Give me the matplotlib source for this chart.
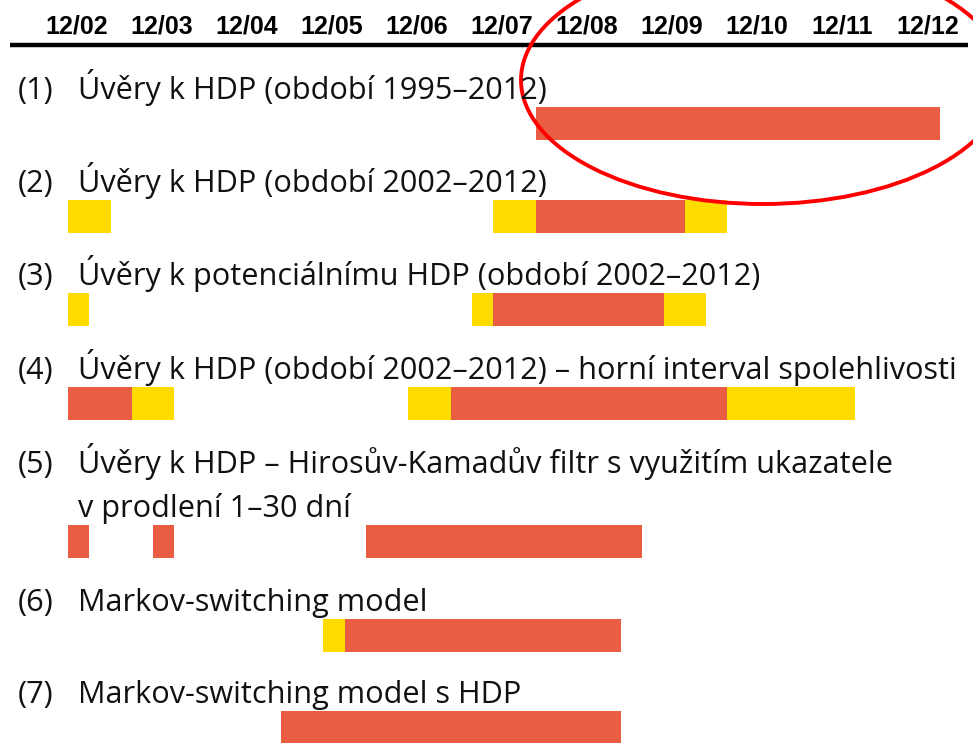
import matplotlib
matplotlib.use("Agg")
import matplotlib.pyplot as plt
from matplotlib import font_manager
from matplotlib.patches import Ellipse
from matplotlib.lines import Line2D

# ---------------- data ----------------
tick_labels = ["12/02", "12/03", "12/04", "12/05", "12/06", "12/07",
               "12/08", "12/09", "12/10", "12/11", "12/12"]

row_numbers = ["(1)", "(2)", "(3)", "(4)", "(5)", "(6)", "(7)"]
row_labels = [
    "Úvěry k HDP (období 1995–2012)",
    "Úvěry k HDP (období 2002–2012)",
    "Úvěry k potenciálnímu HDP (období 2002–2012)",
    "Úvěry k HDP (období 2002–2012) – horní interval spolehlivosti",
    "Úvěry k HDP – Hirosův-Kamadův filtr s využitím ukazatele\nv prodlení 1–30 dní",
    "Markov-switching model",
    "Markov-switching model s HDP",
]

# segments in quarters counted from Q4 2002 (start, end, kind)
row1_start = [22]
row1_end = [41]
row1_kind = ["red"]

row2_start = [0, 20, 22, 29]
row2_end = [2, 22, 29, 31]
row2_kind = ["yellow", "yellow", "red", "yellow"]

row3_start = [0, 19, 20, 28]
row3_end = [1, 20, 28, 30]
row3_kind = ["yellow", "yellow", "red", "yellow"]

row4_start = [0, 3, 16, 18, 31]
row4_end = [3, 5, 18, 31, 37]
row4_kind = ["red", "yellow", "yellow", "red", "yellow"]

row5_start = [0, 4, 14]
row5_end = [1, 5, 27]
row5_kind = ["red", "red", "red"]

row6_start = [12, 13]
row6_end = [13, 26]
row6_kind = ["yellow", "red"]

row7_start = [10]
row7_end = [26]
row7_kind = ["red"]

rows_start = [row1_start, row2_start, row3_start, row4_start, row5_start, row6_start, row7_start]
rows_end = [row1_end, row2_end, row3_end, row4_end, row5_end, row6_end, row7_end]
rows_kind = [row1_kind, row2_kind, row3_kind, row4_kind, row5_kind, row6_kind, row7_kind]

# ---------------- style / layout ----------------
W, H, DPI = 973, 743, 100
colors = {"red": "#E95E43", "yellow": "#FFDC00"}
x0_px = 68.0        # pixel of quarter 0
q_px = 21.27        # pixels per quarter
bar_tops = [107, 200, 293, 387, 525, 619, 711]
bar_h = 33
label_baselines = [99, 192, 285, 379, 473, 611, 703]
line_gap = 44

avail = {f.name for f in font_manager.fontManager.ttflist}
text_family = "Open Sans" if "Open Sans" in avail else "DejaVu Sans"
if "Liberation Sans Narrow" in avail:
    tick_family, tick_size = "Liberation Sans Narrow", 22
else:
    tick_family, tick_size = "Liberation Sans", 18

fig = plt.figure(figsize=(W / DPI, H / DPI), dpi=DPI)
ax = fig.add_axes([0, 0, 1, 1])
ax.set_xlim(-x0_px / q_px, (W - x0_px) / q_px)
ax.set_ylim(H, 0)
ax.axis("off")
ax.set_zorder(1)

pix = fig.add_axes([0, 0, 1, 1])
pix.set_xlim(0, W)
pix.set_ylim(H, 0)
pix.axis("off")
pix.patch.set_alpha(0)
pix.set_zorder(2)

# bars
for i in range(len(rows_start)):
    for s, e, k in zip(rows_start[i], rows_end[i], rows_kind[i]):
        ax.barh(bar_tops[i] + bar_h / 2, e - s, left=s, height=bar_h,
                color=colors[k], edgecolor="none", linewidth=0)

# tick labels
for k, lab in enumerate(tick_labels):
    ax.text(4 * k + 0.4, 33, lab, ha="center", va="baseline",
            fontsize=tick_size, fontweight="bold", family=tick_family, color="black")

# axis line
fig.add_artist(Line2D([10 / W, 968 / W], [1 - 45 / H, 1 - 45 / H],
                      color="black", linewidth=3.2, solid_capstyle="butt"))

# row texts
fs = 18.5
texts = []
for i in range(len(row_labels)):
    pix.text(18, label_baselines[i], row_numbers[i], ha="left", va="baseline",
             fontsize=fs, family=text_family, color="#111111", fontweight="normal")
    lines = row_labels[i].split("\n")
    for j, ln in enumerate(lines):
        t = pix.text(78, label_baselines[i] + j * line_gap, ln, ha="left", va="baseline",
                     fontsize=fs, family=text_family, color="#111111", fontweight="normal")
        texts.append((i, j, t))

# fit font size so row 4 label spans the reference width
fig.canvas.draw()
r = fig.canvas.get_renderer()
ref = [t for (i, j, t) in texts if i == 3][0]
w = ref.get_window_extent(r).width
scale = 879.0 / w
for t in pix.texts:
    t.set_fontsize(fs * scale)

# highlight ellipse
pix.add_patch(Ellipse((763, 80), 484, 248, fill=False, edgecolor="#FF0000", linewidth=2.8))

fig.savefig("out.png", dpi=DPI)
